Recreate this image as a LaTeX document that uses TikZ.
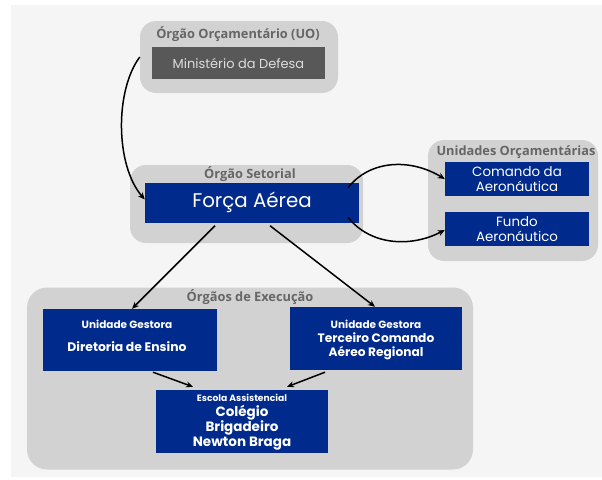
\documentclass[tikz,border=0pt]{standalone}
\usepackage{fontspec}
\setmainfont{Poppins}
\newfontfamily\titlefont{Open Sans}
\usetikzlibrary{arrows.meta,positioning,calc}
\definecolor{bgc}{HTML}{F5F5F5}
\definecolor{grpc}{HTML}{D2D2D2}
\definecolor{bluec}{HTML}{002A8C}
\definecolor{darkc}{HTML}{585858}
\definecolor{titc}{HTML}{666666}
\definecolor{mintx}{HTML}{DDDDDD}
\tikzset{
  x=1pt,y=1pt,
  grp/.style={fill=grpc,rounded corners=16pt,inner sep=0pt},
  bbox/.style={fill=bluec,inner sep=0pt,text=white,align=center},
  grptitle/.style={text=titc,font=\titlefont\bfseries\fontsize{12.8}{14}\selectfont,inner sep=0pt},
  arr/.style={draw=black,line width=1.5pt,-{Stealth[length=7pt,width=6pt]}},
}
\begin{document}
\begin{tikzpicture}
\useasboundingbox (0,0) rectangle (602,-479);
\fill[white] (0,0) rectangle (602,-479);
\fill[bgc] (11,-5) rectangle (602,-477);
% groups
\node[grp,minimum width=198pt,minimum height=72pt] (uo) at (239,-57) {};
\node[grp,minimum width=233pt,minimum height=78pt] (set) at (246.5,-204) {};
\node[grp,minimum width=170pt,minimum height=121pt] (uni) at (513,-200.5) {};
\node[grp,rounded corners=20pt,minimum width=446pt,minimum height=182pt] (exe) at (250,-378.5) {};
% titles
\node[grptitle] (tuo) at (238,-34) {Órgão Orçamentário (UO)};
\node[grptitle] (tset) at (250,-174.5) {Órgão Setorial};
\node[grptitle] (tuni) at (516,-152) {Unidades Orçamentárias};
\node[grptitle] (texe) at (250,-297) {Órgãos de Execução};
% boxes
\node[fill=darkc,inner sep=0pt,minimum width=173pt,minimum height=32pt,text=mintx,font=\fontsize{13}{15}\selectfont] (min) at (238.5,-63) {Ministério da Defesa};
\node[bbox,minimum width=214pt,minimum height=40pt,font=\fontsize{19.8}{22}\selectfont] (forca) at (252,-202.5) {Força Aérea};
\node[bbox,minimum width=144pt,minimum height=34pt,font=\fontsize{13.4}{15}\selectfont] (com) at (517,-179) {Comando da\\Aeronáutica};
\node[bbox,minimum width=144pt,minimum height=34pt,font=\fontsize{13.4}{15}\selectfont] (fun) at (517,-229) {Fundo\\Aeronáutico};
\node[bbox,minimum width=174pt,minimum height=62pt] (dir) at (130,-340) {};
\node[bbox,font=\bfseries\fontsize{10.5}{12}\selectfont] (dirA) at (127,-324) {Unidade Gestora};
\node[bbox,font=\bfseries\fontsize{12.4}{14}\selectfont] (dirB) at (127,-347) {Diretoria de Ensino};
\node[bbox,minimum width=172pt,minimum height=63pt] (ter) at (376,-338.5) {};
\node[bbox,font=\bfseries\fontsize{10.5}{12}\selectfont] (terA) at (376,-324) {Unidade Gestora};
\node[bbox,font=\bfseries\fontsize{12.2}{13.5}\selectfont] (terB) at (376,-346.5) {Terceiro Comando\\Aéreo Regional};
\node[bbox,minimum width=172pt,minimum height=63pt] (col) at (242,-421.5) {};
\node[bbox,font=\bfseries\fontsize{9.2}{10}\selectfont] (colA) at (242,-398) {Escola Assistencial};
\node[bbox,font=\bfseries\fontsize{13.5}{15}\selectfont] (colB) at (242,-428) {Colégio\\Brigadeiro\\Newton Braga};
% connectors
\draw[arr] (uo.west) .. controls (115,-90) and (115,-165) .. ([yshift=3pt]forca.west);
\draw[arr] ([shift={(-11pt,15pt)}]forca.east) .. controls (370,-160) and (410,-158) .. (com.west);
\draw[arr] ([shift={(-11pt,-15pt)}]forca.east) .. controls (370,-245) and (410,-248) .. ([yshift=-1pt]fun.west);
\draw[arr] ([shift={(-37pt,-3pt)}]forca.south) -- ([xshift=2pt]dir.north);
\draw[arr] ([shift={(18pt,-3pt)}]forca.south) -- ([xshift=-1pt]ter.north);
\draw[arr] ([xshift=23pt,yshift=-1pt]dir.south) -- ([shift={(-49pt,3pt)}]col.north);
\draw[arr] ([xshift=-51pt,yshift=-2pt]ter.south) -- ([shift={(45pt,3pt)}]col.north);
\end{tikzpicture}
\end{document}
